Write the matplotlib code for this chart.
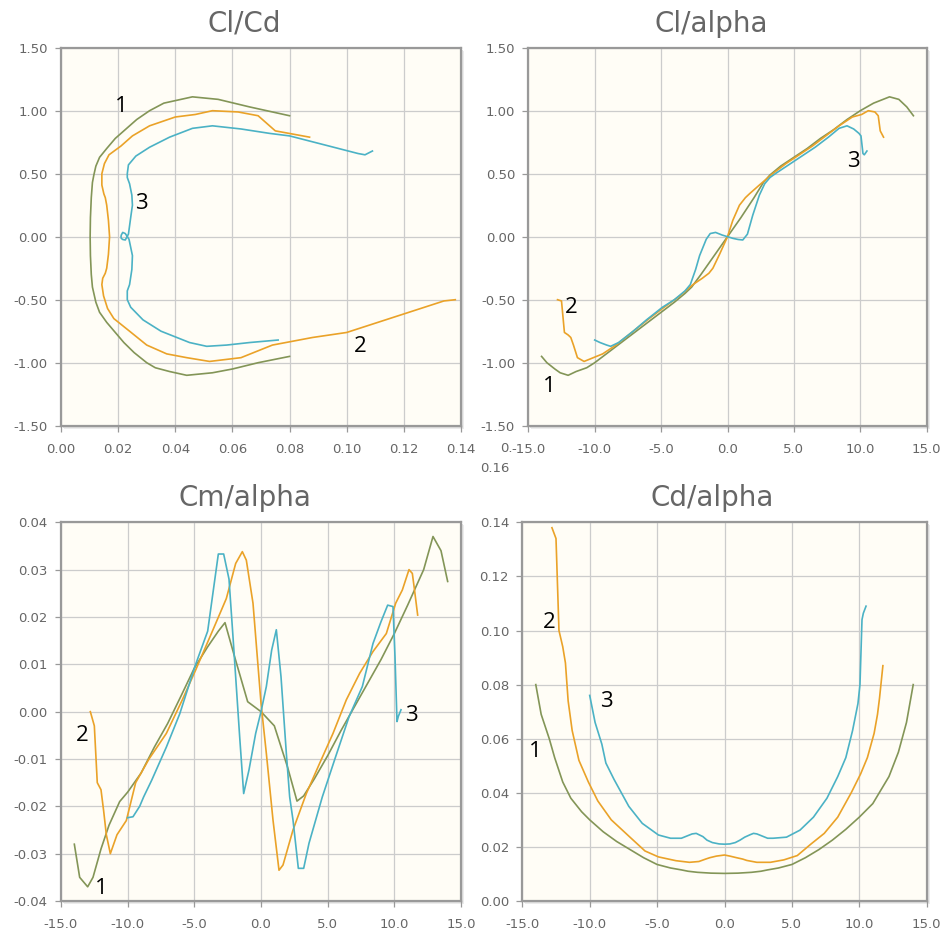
import numpy as np
import matplotlib
matplotlib.use("Agg")
import matplotlib.pyplot as plt
from matplotlib.patches import Rectangle

# series 1 (green)
alpha1 = [-14.0, -13.6, -13.0, -12.6, -12.0, -11.4, -10.6, -10.0, -9.0, -8.0, -7.0, -6.0,
          -5.0, -4.0, -3.2, -2.7, -2.0, -1.0, 0.0, 1.0, 2.0, 2.7, 3.2, 4.0, 5.0, 6.0,
          7.0, 8.0, 9.0, 10.0, 11.0, 12.2, 12.9, 13.5, 14.0]
cl1 = [-0.95, -1.00, -1.05, -1.08, -1.10, -1.07, -1.04, -1.00, -0.92, -0.84, -0.76, -0.68,
       -0.60, -0.52, -0.45, -0.40, -0.30, -0.15, 0.00, 0.15, 0.31, 0.43, 0.49, 0.56, 0.63, 0.70,
       0.78, 0.85, 0.93, 1.00, 1.06, 1.11, 1.09, 1.03, 0.96]
cd1 = [0.080, 0.069, 0.060, 0.053, 0.044, 0.038, 0.033, 0.030, 0.0256, 0.022, 0.019, 0.016,
       0.0135, 0.0122, 0.0115, 0.0110, 0.0106, 0.0103, 0.0102, 0.0103, 0.0106, 0.0110, 0.0115,
       0.0122, 0.0135, 0.016, 0.019, 0.0225, 0.0265, 0.031, 0.036, 0.046, 0.055, 0.066, 0.080]
cm1 = [-0.028, -0.035, -0.037, -0.035, -0.029, -0.024, -0.019, -0.017, -0.013, -0.0075, -0.0025,
       0.0033, 0.0092, 0.0137, 0.017, 0.0188, 0.0118, 0.0021, 0.0, -0.003, -0.0118, -0.0189,
       -0.0178, -0.0142, -0.0093, -0.004, 0.001, 0.006, 0.011, 0.0165, 0.0225, 0.030, 0.037,
       0.034, 0.0275]

# series 2 (orange)
alpha2 = [-12.8, -12.5, -12.28, -12.0, -11.8, -11.6, -11.3, -10.8, -10.1, -9.4, -8.4, -7.1,
          -5.9, -4.9, -3.6, -2.6, -1.9, -1.4, -1.1, -0.6, 0.0, 0.4, 0.9, 1.35, 1.65, 2.4, 3.4,
          4.4, 5.4, 6.4, 7.4, 8.4, 9.4, 10.1, 10.6, 11.1, 11.35, 11.5, 11.75]
cl2 = [-0.50, -0.51, -0.76, -0.78, -0.80, -0.86, -0.96, -0.99, -0.96, -0.93, -0.86, -0.75,
       -0.65, -0.57, -0.47, -0.38, -0.33, -0.29, -0.25, -0.14, 0.00, 0.13, 0.25, 0.31, 0.34,
       0.41, 0.50, 0.58, 0.65, 0.72, 0.80, 0.88, 0.95, 0.97, 1.00, 0.99, 0.96, 0.84, 0.79]
cd2 = [0.138, 0.134, 0.100, 0.094, 0.088, 0.074, 0.063, 0.052, 0.044, 0.037, 0.030, 0.024,
       0.0185, 0.0163, 0.0149, 0.0143, 0.0146, 0.0155, 0.016, 0.0166, 0.017, 0.0166, 0.016,
       0.0155, 0.015, 0.0143, 0.0143, 0.0152, 0.0168, 0.021, 0.025, 0.031, 0.040, 0.047,
       0.053, 0.062, 0.069, 0.075, 0.087]
cm2 = [0.0, -0.003, -0.015, -0.0165, -0.021, -0.026, -0.030, -0.026, -0.023, -0.015, -0.010,
       -0.0046, 0.0025, 0.0088, 0.0173, 0.0239, 0.0313, 0.0338, 0.032, 0.0229, 0.0018, -0.0088,
       -0.0229, -0.0335, -0.0324, -0.025, -0.0173, -0.0109, -0.0046, 0.0025, 0.0081, 0.0127,
       0.0165, 0.0229, 0.0257, 0.030, 0.0292, 0.026, 0.0204]

# series 3 (cyan)
alpha3 = [-10.0, -9.6, -9.1, -8.8, -8.2, -7.1, -6.1, -4.9, -4.0, -3.2, -2.8, -2.4, -2.1, -1.6,
          -1.3, -0.9, -0.4, 0.0, 0.4, 0.8, 1.15, 1.5, 1.9, 2.15, 2.4, 2.8, 3.2, 3.6, 4.6, 5.6,
          6.6, 7.6, 8.4, 9.0, 9.5, 9.9, 10.05, 10.2, 10.3, 10.5]
cl3 = [-0.82, -0.84, -0.86, -0.87, -0.84, -0.75, -0.66, -0.56, -0.50, -0.43, -0.38, -0.26,
       -0.15, -0.02, 0.025, 0.034, 0.013, 0.0, -0.013, -0.022, -0.026, 0.02, 0.17, 0.25, 0.33,
       0.42, 0.47, 0.50, 0.57, 0.64, 0.71, 0.79, 0.86, 0.88, 0.855, 0.82, 0.80, 0.66, 0.65, 0.68]
cd3 = [0.076, 0.066, 0.058, 0.051, 0.045, 0.035, 0.0287, 0.0244, 0.0232, 0.0232, 0.024, 0.0248,
       0.025, 0.0238, 0.0225, 0.0216, 0.0211, 0.021, 0.0211, 0.0216, 0.0225, 0.0236, 0.0245,
       0.025, 0.0248, 0.024, 0.0232, 0.0232, 0.0236, 0.0262, 0.031, 0.038, 0.046, 0.053, 0.063,
       0.073, 0.080, 0.104, 0.1064, 0.109]
cm3 = [-0.0224, -0.0222, -0.020, -0.018, -0.0145, -0.0075, -0.0005, 0.010, 0.017, 0.0333, 0.0333,
       0.028, 0.0158, -0.0053, -0.0173, -0.0123, -0.0046, 0.0, 0.0053, 0.013, 0.0173, 0.0074,
       -0.0088, -0.018, -0.0229, -0.0331, -0.0331, -0.0278, -0.018, -0.0095, -0.0011, 0.0053,
       0.0144, 0.019, 0.0225, 0.0222, 0.0116, -0.0021, -0.001, 0.0004]

colors = ['#839557', '#EAA228', '#4bb2c5']
titles = ['Cl/Cd', 'Cl/alpha', 'Cm/alpha', 'Cd/alpha']

W, H = 943, 936
fig = plt.figure(figsize=(W / 100, H / 100), dpi=100)
fig.patch.set_facecolor('white')


def px_axes(x0, y0, x1, y1):
    return fig.add_axes([x0 / W, 1 - y1 / H, (x1 - x0) / W, (y1 - y0) / H])


boxes = [(61, 47.7, 461, 425.7), (528.3, 47.7, 926.7, 425.7),
         (61, 522.3, 461, 901), (522.3, 522.3, 926.7, 901)]
axes = [px_axes(*b) for b in boxes]

# drop shadows
for (x0, y0, x1, y1) in boxes:
    for k, c in [(3, '#ececec'), (2, '#dedede')]:
        fig.patches.append(Rectangle(((x0 + k) / W, 1 - (y1 + k) / H), (x1 - x0) / W,
                                     (y1 - y0) / H, transform=fig.transFigure,
                                     facecolor=c, edgecolor='none', zorder=-1))


def style(ax, xt, yt, xfmt, yfmt):
    ax.set_facecolor('#fffdf6')
    ax.set_xticks(xt)
    ax.set_yticks(yt)
    ax.set_xticklabels([xfmt % v for v in xt])
    ax.set_yticklabels([(yfmt % v).replace('-0.00', '0.00') for v in yt])
    ax.set_xlim(xt[0], xt[-1])
    ax.set_ylim(yt[0], yt[-1])
    ax.grid(True, color='#cccccc', lw=0.9)
    ax.set_axisbelow(True)
    for s in ax.spines.values():
        s.set_color('#999999')
        s.set_linewidth(1.6)
    ax.tick_params(axis='both', colors='#999999', labelcolor='#666666', labelsize=9.5,
                   length=4.5, width=0.9)
    ax.tick_params(axis='x', pad=8)
    ax.tick_params(axis='y', pad=5)


alphas = [alpha1, alpha2, alpha3]
cls = [cl1, cl2, cl3]
cds = [cd1, cd2, cd3]
cms = [cm1, cm2, cm3]

ax1, ax2, ax3, ax4 = axes
for i in range(3):
    ax1.plot(cds[i], cls[i], color=colors[i], lw=1.2)
    ax2.plot(alphas[i], cls[i], color=colors[i], lw=1.2)
    ax3.plot(alphas[i], cms[i], color=colors[i], lw=1.2)
    ax4.plot(alphas[i], cds[i], color=colors[i], lw=1.2)

alpha_ticks = np.arange(-15, 16, 5.0)
style(ax1, np.arange(0, 0.141, 0.02), np.arange(-1.5, 1.51, 0.5), '%.2f', '%.2f')
style(ax2, alpha_ticks, np.arange(-1.5, 1.51, 0.5), '%.1f', '%.2f')
style(ax3, alpha_ticks, np.arange(-0.04, 0.0401, 0.01), '%.1f', '%.2f')
style(ax4, alpha_ticks, np.arange(0, 0.1401, 0.02), '%.1f', '%.2f')

# stray wrapped tick label, as in the original page
fig.text(495 / W, 1 - 468 / H, '0.16', color='#666666', fontsize=9.5, ha='center', va='center')
fig.text(506 / W, 1 - 448 / H, '0.', color='#666666', fontsize=9.5, ha='center', va='center')

# titles
title_pos = [(244, 24), (711, 24), (245, 498), (712, 498)]
for t, (x, y) in zip(titles, title_pos):
    fig.text(x / W, 1 - y / H, t, color='#666666', fontsize=20, ha='center', va='center')

# series numbers
num_font = dict(fontsize=16, color='black', ha='center', va='center', family='Open Sans')
ax1.text(0.0212, 1.03, '1', **num_font)
ax1.text(0.0282, 0.26, '3', **num_font)
ax1.text(0.1047, -0.873, '2', **num_font)
ax2.text(-11.74, -0.56, '2', **num_font)
ax2.text(-13.42, -1.19, '1', **num_font)
ax2.text(9.49, 0.60, '3', **num_font)
ax3.text(-13.4, -0.0051, '2', **num_font)
ax3.text(-11.95, -0.0373, '1', **num_font)
ax3.text(11.25, -0.00085, '3', **num_font)
ax4.text(-13.02, 0.1029, '2', **num_font)
ax4.text(-8.74, 0.0737, '3', **num_font)
ax4.text(-14.06, 0.0552, '1', **num_font)

fig.savefig('out.png', dpi=100)
